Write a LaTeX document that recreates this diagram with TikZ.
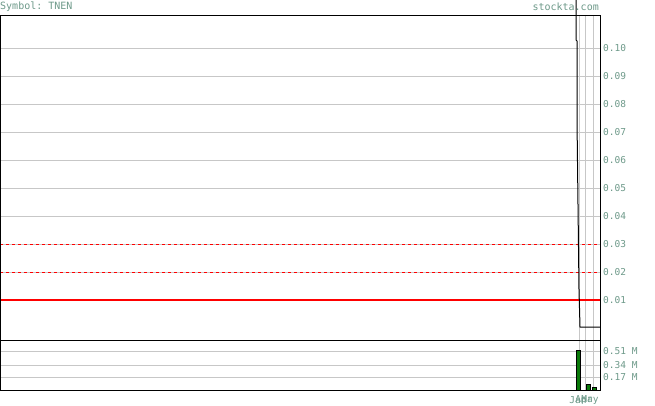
\documentclass[tikz,border=0pt]{standalone}
\usepackage{fontspec}
\setmonofont{DejaVu Sans Mono}
\begin{document}
\begin{tikzpicture}[x=1pt,y=-1pt,
  lbl/.style={font=\ttfamily\fontsize{9.5}{10}\selectfont,text=tc,inner sep=0pt},
  grid/.style={draw=black!22,line width=0.6pt},
  frame/.style={draw=black,line width=0.8pt}]
\definecolor{tc}{HTML}{6E9A8A}
\definecolor{vg}{HTML}{0A7A0A}
\useasboundingbox (0,0) rectangle (655,406);
\fill[white] (0,0) rectangle (655,406);
% price grid
\foreach \v/\t in {1/0.01,2/0.02,3/0.03,4/0.04,5/0.05,6/0.06,7/0.07,8/0.08,9/0.09,10/0.10}{
  \pgfmathsetmacro\yy{300-(\v-1)*28}
  \draw[grid] (0,\yy) -- (600,\yy);
  \node[lbl,anchor=west] (p\v) at (603,\yy) {\t};
}
\foreach \xx in {579,585,593}{\draw[grid] (\xx,15) -- (\xx,390);}
% volume grid
\foreach \yy/\t in {351/0.51 M,365/0.34 M,377/0.17 M}{
  \draw[grid] (0,\yy) -- (600,\yy);
  \node[lbl,anchor=west] at (603,\yy) {\t};
}
% red lines
\draw[red,dashed,line width=0.7pt] (0,244) -- (600,244);
\draw[red,dashed,line width=0.7pt] (0,272) -- (600,272);
\draw[red,line width=2pt] (0,300) -- (600,300);
% price line
\draw[black,line width=1pt] (576,0) -- (576,40) -- (577,41) -- (577,120) -- (578,205) -- (579,290) -- (580,327) -- (600,327);
% volume bars
\draw[fill=vg,draw=black,line width=0.6pt] (576,350) rectangle (580,390);
\draw[fill=vg,draw=black,line width=0.6pt] (586,384) rectangle (590,390);
\draw[fill=vg,draw=black,line width=0.6pt] (592,387) rectangle (596,390);
% frames
\draw[frame] (0,15) rectangle (600,390);
\draw[frame] (0,340) -- (600,340);
% texts
\node[lbl,anchor=west,font=\ttfamily\fontsize{10}{11}\selectfont] (sym) at (0,7) {Symbol: TNEN};
\node[lbl,anchor=east,font=\ttfamily\fontsize{10}{11}\selectfont] (site) at (599,7) {stockta.com};
\node[lbl,anchor=center] (jan) at (578,400) {Jan};
\node[lbl,anchor=center] (apr) at (584,400) {Apr};
\node[lbl,anchor=center] (may) at (590,400) {May};
\end{tikzpicture}
\end{document}
